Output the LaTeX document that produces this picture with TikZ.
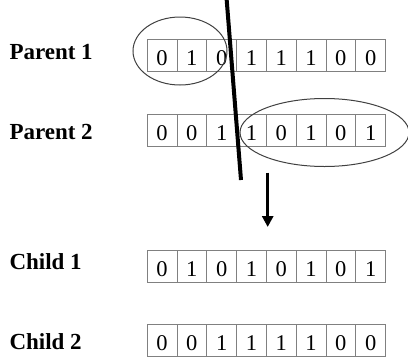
\documentclass[tikz,border=0pt]{standalone}
\usepackage{fontspec}
\setmainfont{Liberation Serif}
\usetikzlibrary{arrows.meta}
\begin{document}
\begin{tikzpicture}[x=1pt,y=-1pt,
  cell/.style={draw=black!50,line width=0.9pt,minimum width=29.8pt,minimum height=31.7pt,inner sep=0pt,anchor=north west,text height=20pt,text depth=0pt,font=\fontsize{22.5}{22.5}\selectfont},
  lbl/.style={anchor=base west,inner sep=0pt,font=\fontsize{23}{23}\selectfont\bfseries},
  ring/.style={draw=black!75,line width=1pt},
  cutline/.style={line width=4pt},
  flow/.style={line width=3pt,-{Triangle[length=11pt,width=11pt]}}]
\useasboundingbox (0,0) rectangle (408,360);
% labels
\node[lbl] (l1) at (9.3,59.3) {Parent 1};
\node[lbl] (l2) at (9.3,139.3) {Parent 2};
\node[lbl] (l3) at (9.3,269.3) {Child 1};
\node[lbl] (l4) at (9.3,349.3) {Child 2};
% cells
\foreach \r/\y/\bits in {1/39.3/{0,1,0,1,1,1,0,0},2/114/{0,0,1,1,0,1,0,1},3/250/{0,1,0,1,0,1,0,1},4/323.8/{0,0,1,1,1,1,0,0}}{
  \foreach \b [count=\c from 0] in \bits {
    \node[cell] (r\r c\c) at ({146.7+29.8*\c},\y) {\b};
  }
}
% ellipses
\draw[ring] (180,51) ellipse [x radius=47, y radius=34];
\draw[ring] (324.5,132.5) ellipse [x radius=84.5, y radius=34];
% cut line
\coordinate (cuttop) at (226.7,0);
\coordinate (cutbot) at (241,180);
\draw[cutline] (cuttop) -- (cutbot);
% arrow
\coordinate (atop) at (267.7,172.5);
\coordinate (abot) at (267.7,227);
\draw[flow] (atop) -- (abot);
\end{tikzpicture}
\end{document}
